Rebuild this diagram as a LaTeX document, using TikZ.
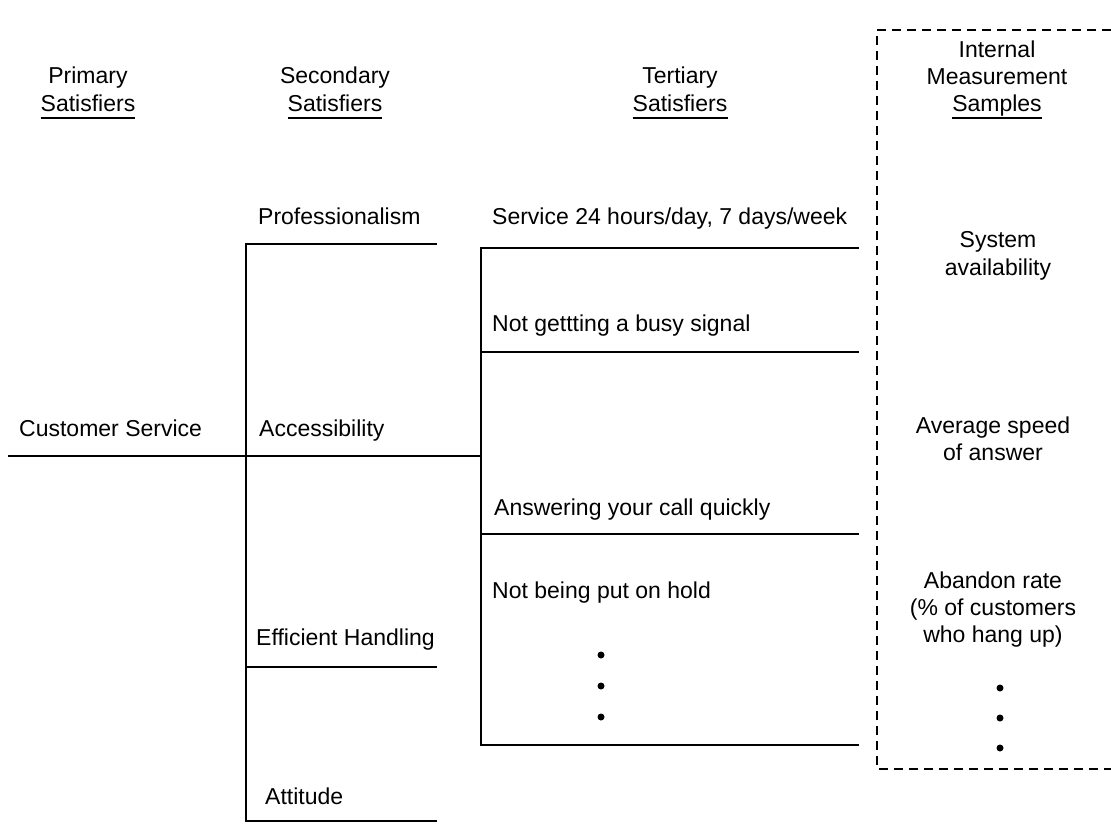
\documentclass[tikz,border=0pt]{standalone}
\usepackage{fontspec}
\setmainfont{Liberation Sans}
\begin{document}
\begin{tikzpicture}[x=1pt,y=-1pt,
  lbl/.style={inner sep=0pt, font=\fontsize{23}{27}\selectfont},
  wire/.style={line width=2.6pt},
  ulin/.style={line width=1.8pt},
  dotmark/.style={circle, fill=black, inner sep=0pt, minimum size=7pt},
  dashbox/.style={line width=2pt, dash pattern=on 9pt off 6pt}]
\useasboundingbox (0,0) rectangle (1111,824);

% headers
\node[lbl,anchor=base] (p1) at (88,84) {Primary};
\node[lbl,anchor=base] (p2) at (88,112) {Satisfiers};
\node[lbl,anchor=base] (s1) at (335,84) {Secondary};
\node[lbl,anchor=base] (s2) at (335,112) {Satisfiers};
\node[lbl,anchor=base] (t1) at (680,84) {Tertiary};
\node[lbl,anchor=base] (t2) at (680,112) {Satisfiers};
\node[lbl,anchor=base] (m1) at (997,58) {Internal};
\node[lbl,anchor=base] (m2) at (997,85) {Measurement};
\node[lbl,anchor=base] (m3) at (997,112) {Samples};
\foreach \n in {p2,s2,t2,m3}{
  \draw[ulin] ([yshift=-6pt]\n.base west) -- ([yshift=-6pt]\n.base east);
}

% tree coordinates
\coordinate (cs0) at (8,456);
\coordinate (j1) at (246,456);
\coordinate (j2) at (481,456);
\coordinate (pa) at (246,244);
\coordinate (pb) at (437,244);
\coordinate (ea) at (246,667);
\coordinate (eb) at (437,667);
\coordinate (aa) at (246,821);
\coordinate (ab) at (437,821);
\coordinate (ta) at (481,248);
\coordinate (tb) at (859,248);
\coordinate (na) at (481,352);
\coordinate (nb) at (859,352);
\coordinate (qa) at (481,534);
\coordinate (qb) at (859,534);
\coordinate (ba) at (481,745);
\coordinate (bb) at (859,745);

\draw[wire] (cs0) -- (j2);
\draw[wire] (pb) -- (pa) -- (aa) -- (ab);
\draw[wire] (ea) -- (eb);
\draw[wire] (tb) -- (ta) -- (ba) -- (bb);
\draw[wire] (na) -- (nb);
\draw[wire] (qa) -- (qb);

% labels
\node[lbl,anchor=base west] (cs) at (19,436) {Customer Service};
\node[lbl,anchor=base west] (pro) at (258,224) {Professionalism};
\node[lbl,anchor=base west] (acc) at (259,436) {Accessibility};
\node[lbl,anchor=base west] (eff) at (256,645) {Efficient Handling};
\node[lbl,anchor=base west] (att) at (265,804) {Attitude};
\node[lbl,anchor=base west] (svc) at (492,224) {Service 24 hours/day, 7 days/week};
\node[lbl,anchor=base west] (bsy) at (492,331) {Not gettting a busy signal};
\node[lbl,anchor=base west] (ans) at (494,515) {Answering your call quickly};
\node[lbl,anchor=base west] (hld) at (492,598) {Not being put on hold};

\node[dotmark] (d1) at (601,655) {};
\node[dotmark] (d2) at (601,686) {};
\node[dotmark] (d3) at (601,717) {};

% measurement box
\coordinate (bx1) at (1111,30);
\coordinate (bx2) at (877,30);
\coordinate (bx3) at (877,769);
\coordinate (bx4) at (1111,769);
\draw[dashbox] (bx1) -- (bx2) -- (bx3) -- (bx4);

\node[lbl,anchor=base] (sy1) at (998,247) {System};
\node[lbl,anchor=base] (sy2) at (998,275) {availability};
\node[lbl,anchor=base] (av1) at (993,433) {Average speed};
\node[lbl,anchor=base] (av2) at (993,460) {of answer};
\node[lbl,anchor=base] (ab1) at (993,588) {Abandon rate};
\node[lbl,anchor=base] (ab2) at (993,615) {(\% of customers};
\node[lbl,anchor=base] (ab3) at (993,642) {who hang up)};

\node[dotmark] (e1) at (1000,688) {};
\node[dotmark] (e2) at (1000,718) {};
\node[dotmark] (e3) at (1000,748) {};
\end{tikzpicture}
\end{document}
